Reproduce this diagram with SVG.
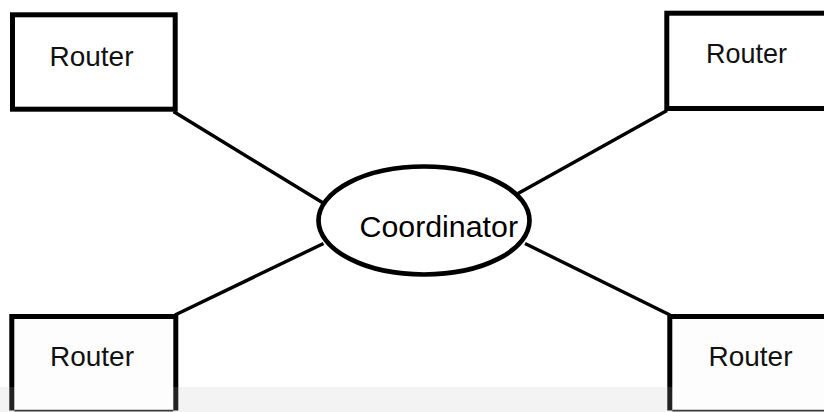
<svg xmlns="http://www.w3.org/2000/svg" width="824" height="412" viewBox="0 0 824 412">
  <style>
    .box { fill: #ffffff; stroke: #000000; stroke-width: 5; }
    .edge { stroke: #000000; stroke-width: 3.4; stroke-linecap: butt; fill: none; }
    .lbl { font-family: "Liberation Sans", Arial, sans-serif; font-size: 28px; fill: #111111; text-anchor: middle; }
    .clbl { font-family: "Liberation Sans", Arial, sans-serif; font-size: 29px; fill: #000000; }
    .side { stroke: #000000; stroke-width: 5; fill: none; }
    .sideg { stroke: #222222; stroke-width: 5; fill: none; }
    .bot { stroke: #3a3a3a; stroke-width: 1.6; fill: none; }
  </style>
  <rect x="0" y="0" width="824" height="412" fill="#ffffff"/>
  <rect x="0" y="387" width="824" height="25" fill="#f3f3f3"/>

  <g id="connectors">
    <line class="edge" x1="173.5" y1="111.5" x2="324" y2="203.5"/>
    <line class="edge" x1="518" y1="193.5" x2="667" y2="110.5"/>
    <line class="edge" x1="175" y1="315" x2="323.5" y2="243.5"/>
    <line class="edge" x1="525" y1="243.5" x2="670" y2="315"/>
  </g>

  <g id="router-top-left">
    <rect class="box" x="12.5" y="14.8" width="162.7" height="94.4"/>
    <text class="lbl" x="91.5" y="66" textLength="84" lengthAdjust="spacingAndGlyphs">Router</text>
  </g>

  <g id="router-top-right">
    <rect class="box" x="666.8" y="13.2" width="170" height="95.3"/>
    <text class="lbl" x="746.5" y="63" textLength="81" lengthAdjust="spacingAndGlyphs">Router</text>
  </g>

  <g id="router-bottom-left">
    <rect x="11.8" y="316.5" width="164" height="94" fill="#fdfdfd"/>
    <path class="side" d="M11.8 387 V316.5 H175.8 V387"/>
    <path class="sideg" d="M11.8 387 V410.5 M175.8 387 V410.5"/>
    <line class="bot" x1="14.3" y1="410.6" x2="173.3" y2="410.6"/>
    <text class="lbl" x="92" y="366" textLength="84" lengthAdjust="spacingAndGlyphs">Router</text>
  </g>

  <g id="router-bottom-right">
    <rect x="669.8" y="316.5" width="160" height="94" fill="#fdfdfd"/>
    <path class="side" d="M669.8 387 V316.5 H830"/>
    <path class="sideg" d="M669.8 387 V410.5"/>
    <line class="bot" x1="672.3" y1="410.6" x2="824" y2="410.6"/>
    <text class="lbl" x="750.5" y="365.7" textLength="84" lengthAdjust="spacingAndGlyphs">Router</text>
  </g>

  <g id="coordinator">
    <ellipse cx="424" cy="220.5" rx="105.5" ry="54" fill="#ffffff" stroke="#000000" stroke-width="4.7"/>
    <text class="clbl" x="359.5" y="237.3" textLength="158.5" lengthAdjust="spacingAndGlyphs">Coordinator</text>
  </g>
</svg>
